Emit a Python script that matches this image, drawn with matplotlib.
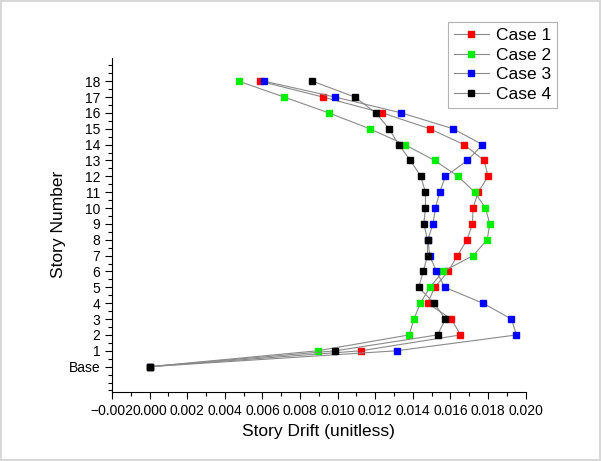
import matplotlib
matplotlib.use("Agg")
import matplotlib.pyplot as plt
from matplotlib.ticker import MultipleLocator, FuncFormatter

plt.rcParams['font.family'] = ['Liberation Sans', 'DejaVu Sans']

stories = list(range(0, 19))
story_labels = ['Base'] + [str(i) for i in range(1, 19)]

case1 = [0.0, 0.01123, 0.01653, 0.01605, 0.01478, 0.01516, 0.01587, 0.01637, 0.01688,
         0.01717, 0.01720, 0.01747, 0.01800, 0.01779, 0.01672, 0.01490, 0.01238, 0.00922, 0.00586]
case2 = [0.0, 0.00893, 0.01380, 0.01406, 0.01440, 0.01490, 0.01560, 0.01720, 0.01795,
         0.01809, 0.01786, 0.01729, 0.01640, 0.01516, 0.01357, 0.01171, 0.00953, 0.00715, 0.00474]
case3 = [0.0, 0.01313, 0.01951, 0.01924, 0.01773, 0.01570, 0.01525, 0.01490, 0.01480,
         0.01507, 0.01520, 0.01543, 0.01573, 0.01690, 0.01770, 0.01614, 0.01339, 0.00986, 0.00609]
case4 = [0.0, 0.00988, 0.01531, 0.01573, 0.01513, 0.01431, 0.01455, 0.01478, 0.01478,
         0.01458, 0.01467, 0.01467, 0.01442, 0.01387, 0.01325, 0.01273, 0.01203, 0.01091, 0.00866]

series = [("Case 1", case1, "#FF0000"), ("Case 2", case2, "#00EE00"),
          ("Case 3", case3, "#0000FF"), ("Case 4", case4, "#000000")]

fig = plt.figure(figsize=(6.01, 4.61), dpi=100)
fig.patch.set_edgecolor('#d8d8d8')
fig.patch.set_linewidth(1.5)
ax = fig.add_axes([0.1864, 0.1503, 0.8747 - 0.1864, 0.8748 - 0.1503])

for name, vals, col in series:
    ax.plot(vals, stories, color='#8a8a8a', lw=0.8, marker='s', markersize=4.5,
            markerfacecolor=col, markeredgecolor=col, label=name)

ax.set_xlim(-0.002, 0.020)
ax.set_ylim(-1.58, 19.48)
ax.xaxis.set_major_locator(MultipleLocator(0.002))
ax.xaxis.set_minor_locator(MultipleLocator(0.001))
ax.xaxis.set_major_formatter(FuncFormatter(lambda v, p: f"{v:.3f}".replace('-', '\u2212')))
ax.set_yticks(stories)
ax.set_yticklabels(story_labels)
ax.yaxis.set_minor_locator(MultipleLocator(0.5))

for s in ['top', 'right']:
    ax.spines[s].set_visible(False)
ax.tick_params(axis='both', which='major', labelsize=10, length=5, width=0.8, direction='out')
ax.tick_params(axis='both', which='minor', length=3, width=0.8, direction='out')

ax.set_xlabel('Story Drift (unitless)', fontsize=12.5, labelpad=5)
ax.set_ylabel('Story Number', fontsize=12.5, labelpad=2)

leg = fig.legend(loc='upper right', bbox_to_anchor=(557 / 601, 1 - 22 / 461),
                 fontsize=12.5, frameon=True, fancybox=False, borderaxespad=0,
                 handlelength=2.0, labelspacing=0.25, borderpad=0.35, handletextpad=0.4)
leg.get_frame().set_edgecolor('#a0a0a0')
leg.get_frame().set_linewidth(0.8)

fig.savefig('out.png', dpi=100)
